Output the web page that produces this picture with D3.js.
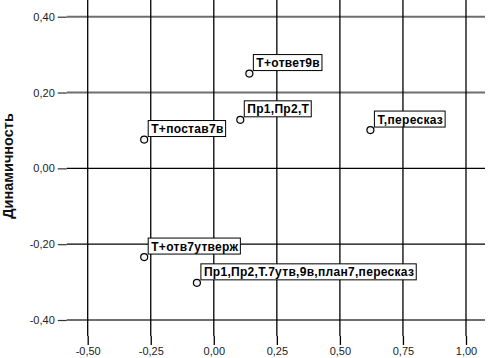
<!DOCTYPE html>
<html>
  <head>
    <meta charset="utf-8">
    <script src="https://d3js.org/d3.v7.min.js"></script>
    <style>
      body { margin: 0; background: #fff; }
      svg { display: block; }
    </style>
  </head>
  <body>
    <svg width="488" height="358"></svg>

    <script type="text/javascript">
      // points: labels and (x, y) values
      var labels = ["Т+ответ9в", "Пр1,Пр2,Т", "Т+постав7в", "Т+отв7утверж",
                    "Пр1,Пр2,Т.7утв,9в,план7,пересказ", "Т,пересказ"];
      var xValues = [0.141, 0.105, -0.276, -0.276, -0.067, 0.621];
      var yValues = [0.250, 0.128, 0.076, -0.234, -0.302, 0.101];
      var xTicks = [-0.5, -0.25, 0, 0.25, 0.5, 0.75, 1.0];
      var yTicks = [-0.4, -0.2, 0, 0.2, 0.4];
      var yTitle = "Динамичность";

      var data = labels.map(function (l, i) {
        return { label: l, x: xValues[i], y: yValues[i] };
      });

      var svg = d3.select("svg");
      var font = "'Liberation Sans', Arial, sans-serif";

      var xScale = d3.scaleLinear().domain([-0.5, 1.0]).range([87.7, 466]);
      var yScale = d3.scaleLinear().domain([-0.4, 0.4]).range([320, 16.7]);

      var left = xScale(-0.583), right = 485, top = -1, bottom = 336;
      var fmt = function (v) { return d3.format(".2f")(v).replace(".", ",").replace("−", "-"); };

      // plot background
      svg.append("rect")
        .attr("x", left).attr("y", top)
        .attr("width", right - left).attr("height", bottom - top)
        .attr("fill", "#ebebeb")
        .attr("stroke", "#8a8a8a")
        .attr("stroke-width", 1.5);

      // horizontal grid lines
      svg.append("g").selectAll("line")
        .data(yTicks).enter().append("line")
        .attr("x1", left).attr("x2", right)
        .attr("y1", function (d) { return yScale(d); })
        .attr("y2", function (d) { return yScale(d); })
        .attr("stroke", function (d) { return (d === 0 || d === -0.2) ? "#000" : "#6e6e6e"; })
        .attr("stroke-width", function (d) { return (d === 0 || d === -0.2) ? 1.2 : 2; });

      // vertical grid lines
      svg.append("g").selectAll("line")
        .data(xTicks).enter().append("line")
        .attr("x1", function (d) { return xScale(d); })
        .attr("x2", function (d) { return xScale(d); })
        .attr("y1", top).attr("y2", bottom)
        .attr("stroke", "#000")
        .attr("stroke-width", 1.3);

      // axes
      var yAxis = svg.append("g")
        .attr("transform", "translate(" + left + ",0)")
        .call(d3.axisLeft(yScale).tickValues(yTicks).tickSize(9).tickPadding(3).tickFormat(fmt));
      yAxis.select(".domain").remove();
      yAxis.selectAll("line").attr("stroke", "#333").attr("stroke-width", 1.2);
      yAxis.selectAll("text").attr("font-family", font).attr("font-size", 11).attr("fill", "#222");

      var xAxis = svg.append("g")
        .attr("transform", "translate(0," + bottom + ")")
        .call(d3.axisBottom(xScale).tickValues(xTicks).tickSize(9).tickPadding(2).tickFormat(fmt));
      xAxis.select(".domain").remove();
      xAxis.selectAll("line").attr("stroke", "#000").attr("stroke-width", 1.3);
      xAxis.selectAll("text").attr("font-family", font).attr("font-size", 11).attr("fill", "#222");

      // y title
      svg.append("text")
        .attr("transform", "translate(13," + 166 + ") rotate(-90)")
        .attr("text-anchor", "middle")
        .attr("font-family", font)
        .attr("font-size", 14.5)
        .attr("font-weight", "bold")
        .attr("fill", "#111")
        .text(yTitle);

      // points
      svg.append("g").selectAll("circle")
        .data(data).enter().append("circle")
        .attr("cx", function (d) { return xScale(d.x); })
        .attr("cy", function (d) { return yScale(d.y); })
        .attr("r", 3.5)
        .attr("fill", "#f4f4f4")
        .attr("stroke", "#000")
        .attr("stroke-width", 1.2);

      // point labels in boxes
      var lab = svg.append("g").selectAll("g")
        .data(data).enter().append("g")
        .attr("transform", function (d) {
          return "translate(" + (xScale(d.x) + 4) + "," + (yScale(d.y) - 3) + ")";
        });
      lab.append("text")
        .attr("x", 3).attr("y", -3.5)
        .attr("font-family", font)
        .attr("font-size", 12)
        .attr("letter-spacing", 0.3)
        .attr("font-weight", "bold")
        .attr("fill", "#000")
        .text(function (d) { return d.label; });
      lab.insert("rect", "text")
        .attr("x", 0).attr("y", -16).attr("height", 16)
        .attr("width", function () {
          return this.parentNode.querySelector("text").getComputedTextLength() + 5;
        })
        .attr("fill", "#fff")
        .attr("stroke", "#000")
        .attr("stroke-width", 1);
    </script>
  </body>
</html>
